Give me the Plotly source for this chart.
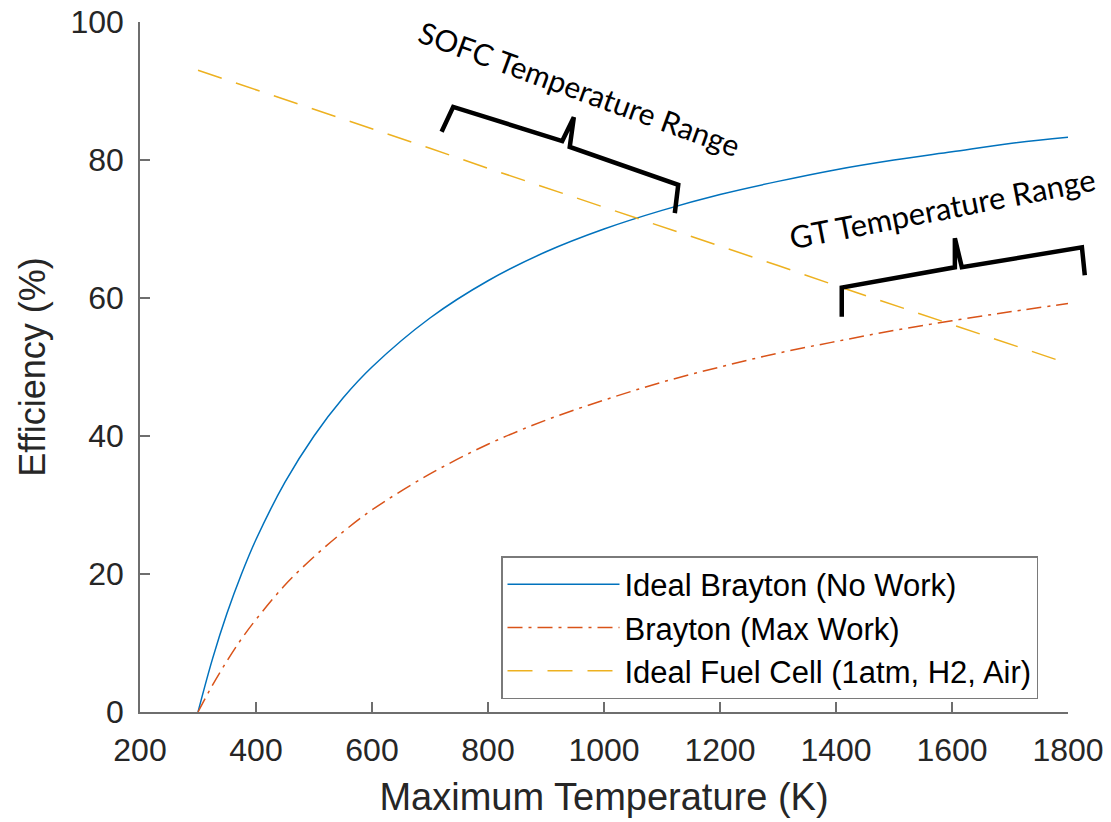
import plotly.graph_objects as go

# ---- data ----
temp_k = [300, 325, 350, 375, 400, 450, 500, 550, 600, 700, 800, 900, 1000,
          1100, 1200, 1300, 1400, 1500, 1600, 1700, 1800]
brayton_no_work = [0.0, 7.7, 14.3, 20.0, 25.0, 33.3, 40.0, 45.5, 50.0, 57.1, 62.5,
                   66.7, 70.0, 72.7, 75.0, 76.9, 78.6, 80.0, 81.2, 82.4, 83.3]
brayton_max_work = [0.0, 3.9, 7.4, 10.6, 13.4, 18.4, 22.5, 26.1, 29.3, 34.5, 38.8,
                    42.3, 45.2, 47.8, 50.0, 52.0, 53.7, 55.3, 56.7, 58.0, 59.2]
fc_temp_k = [300, 400, 500, 600, 700, 800, 900, 1000, 1100, 1200, 1300, 1400,
             1500, 1600, 1700, 1800]
fuel_cell = [93.0, 90.2, 87.3, 84.5, 81.7, 78.8, 76.0, 73.2, 70.3, 67.5, 64.7,
             61.8, 59.0, 56.2, 53.3, 50.5]

series_names = ["Ideal Brayton (No Work)", "Brayton (Max Work)",
                "Ideal Fuel Cell (1atm, H2, Air)"]
x_ticks = [200, 400, 600, 800, 1000, 1200, 1400, 1600, 1800]
y_ticks = [0, 20, 40, 60, 80, 100]
X_RANGE = [200, 1800]
Y_RANGE = [0, 100]

# brace outlines (K, %)
sofc_brace_x = [720, 740, 928, 948, 941, 1128, 1122]
sofc_brace_y = [84.1, 87.7, 82.75, 86.2, 81.9, 76.4, 72.3]
gt_brace_x = [1410, 1410, 1605, 1605, 1617, 1824, 1829]
gt_brace_y = [57.3, 61.5, 64.45, 68.65, 64.45, 67.35, 63.3]

fig = go.Figure()
fig.add_trace(go.Scatter(x=temp_k, y=brayton_no_work, mode="lines", name=series_names[0],
                         line=dict(color="#0072BD", width=1.5, shape="spline")))
fig.add_trace(go.Scatter(x=temp_k, y=brayton_max_work, mode="lines", name=series_names[1],
                         line=dict(color="#D95319", width=1.5, shape="spline",
                                   dash="15px,6px,3px,6px")))
fig.add_trace(go.Scatter(x=fc_temp_k, y=fuel_cell, mode="lines", name=series_names[2],
                         line=dict(color="#EDB120", width=1.5, dash="25px,15px")))


def to_paper(xs, ys):
    px = [(v - X_RANGE[0]) / (X_RANGE[1] - X_RANGE[0]) for v in xs]
    py = [(v - Y_RANGE[0]) / (Y_RANGE[1] - Y_RANGE[0]) for v in ys]
    return "M" + " L".join(f"{a:.4f},{b:.4f}" for a, b in zip(px, py))


for bx, by in [(sofc_brace_x, sofc_brace_y), (gt_brace_x, gt_brace_y)]:
    fig.add_shape(type="path", xref="paper", yref="paper", path=to_paper(bx, by),
                  line=dict(color="black", width=4.5))

ann_family = "Lato, Open Sans, sans-serif"
fig.add_annotation(x=957, y=90.4, xref="x", yref="y", text="SOFC Temperature Range",
                   showarrow=False, textangle=20,
                   font=dict(family=ann_family, size=30, color="black"),
                   xanchor="center", yanchor="middle")
fig.add_annotation(x=1583, y=73.0, xref="x", yref="y", text="GT Temperature Range",
                   showarrow=False, textangle=-11,
                   font=dict(family=ann_family, size=31, color="black"),
                   xanchor="center", yanchor="middle")

tick_font = dict(family="Liberation Sans, Arial, sans-serif", size=32, color="#262626")
axis_common = dict(showline=True, linecolor="#6e6e6e", linewidth=1.5, mirror=False,
                   ticks="inside", ticklen=10, tickcolor="#6e6e6e", tickwidth=1.5,
                   showgrid=False, zeroline=False, automargin=False, tickfont=tick_font)

fig.update_xaxes(range=X_RANGE, tickvals=x_ticks, ticklabelstandoff=9, **axis_common,
                 title=dict(text="Maximum Temperature (K)", standoff=16,
                            font=dict(family="Liberation Sans, Arial, sans-serif",
                                      size=38, color="#262626")))
fig.update_yaxes(range=Y_RANGE, tickvals=y_ticks, ticklabelstandoff=8, **axis_common,
                 title=dict(text="Efficiency (%)", standoff=14,
                            font=dict(family="Liberation Sans, Arial, sans-serif",
                                      size=36, color="#262626")))

fig.update_layout(
    width=1111, height=822,
    margin=dict(l=140, r=43, t=22, b=110),
    paper_bgcolor="white", plot_bgcolor="white",
    showlegend=True,
    legend=dict(x=(501 - 140) / 928, y=(712 - 556) / 690, xanchor="left", yanchor="top",
                bgcolor="white", bordercolor="#7a7a7a", borderwidth=1.5,
                font=dict(family="Liberation Sans, Arial, sans-serif", size=31,
                          color="black"),
                itemwidth=112, entrywidth=548, entrywidthmode="pixels"),
)

fig.write_html("out.html")
